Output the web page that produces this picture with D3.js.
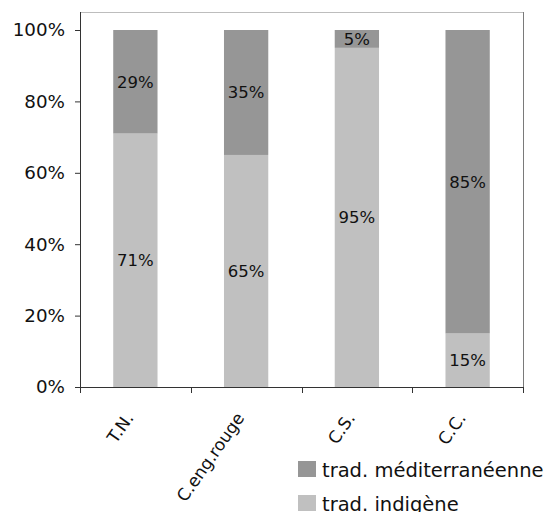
<!DOCTYPE html>
<html>
<head>
<meta charset="utf-8">
<script src="https://cdn.jsdelivr.net/npm/d3@7"></script>
<style>
  html, body { margin: 0; padding: 0; background: #fff; }
  svg text { font-family: "DejaVu Sans", Verdana, sans-serif; fill: #111; }
</style>
</head>
<body>
<svg id="chart" width="550" height="512"></svg>
<script>
// Share of each tradition per site (percent)
const categories = ["T.N.", "C.eng.rouge", "C.S.", "C.C."];
const indigene = [71, 65, 95, 15];
const mediterraneenne = [29, 35, 5, 85];
const seriesNames = ["trad. indigène", "trad. méditerranéenne"];
const yTicks = [0, 20, 40, 60, 80, 100];

const colors = { "trad. indigène": "#c0c0c0", "trad. méditerranéenne": "#969696" };

const svg = d3.select("#chart");
const plot = { left: 80, right: 523, top: 12, bottom: 387 };

const x = d3.scaleBand().domain(categories).range([plot.left, plot.right]).paddingInner(0.6).paddingOuter(0.3);
const xTick = d3.scaleBand().domain(categories).range([plot.left, plot.right]);
const y = d3.scaleLinear().domain([0, 100]).range([plot.bottom, 30]);

const rows = categories.map((c, i) => ({
  cat: c,
  "trad. indigène": indigene[i],
  "trad. méditerranéenne": mediterraneenne[i]
}));
const stacked = d3.stack().keys(seriesNames)(rows);

// plot frame (top and right edges)
svg.append("line").attr("x1", plot.left).attr("x2", plot.right)
  .attr("y1", plot.top + 0.5).attr("y2", plot.top + 0.5)
  .attr("stroke", "#bdbdbd").attr("stroke-width", 1);
svg.append("line").attr("x1", plot.right + 0.5).attr("x2", plot.right + 0.5)
  .attr("y1", plot.top).attr("y2", plot.bottom)
  .attr("stroke", "#7a7a7a").attr("stroke-width", 1);

// stacked bars
const layer = svg.append("g").selectAll("g").data(stacked).join("g")
  .attr("fill", d => colors[d.key]);
layer.selectAll("rect").data(d => d).join("rect")
  .attr("x", d => x(d.data.cat))
  .attr("width", x.bandwidth())
  .attr("y", d => y(d[1]))
  .attr("height", d => y(d[0]) - y(d[1]));

// value labels centered in each segment
layer.selectAll("text").data(d => d.map(v => ({ v, key: d.key }))).join("text")
  .attr("x", d => x(d.v.data.cat) + x.bandwidth() / 2)
  .attr("y", d => (y(d.v[0]) + y(d.v[1])) / 2)
  .attr("dy", "0.36em")
  .attr("text-anchor", "middle")
  .attr("font-size", 16.5)
  .text(d => d.v.data[d.key] + "%");

// y axis
const yAxis = svg.append("g").attr("transform", `translate(${plot.left},0)`)
  .call(d3.axisLeft(y).tickValues(yTicks).tickFormat(d => d + "%").tickSize(5).tickPadding(10));
yAxis.select(".domain").attr("stroke", "#333").attr("d", `M0.5,${plot.top}V${plot.bottom}`);
yAxis.selectAll(".tick line").attr("stroke", "#333");
yAxis.selectAll(".tick text").attr("font-size", 18.3).attr("fill", "#111");

// x axis with ticks between categories
const xAxisG = svg.append("g").attr("transform", `translate(0,${plot.bottom})`);
xAxisG.append("line").attr("x1", plot.left).attr("x2", plot.right + 1)
  .attr("y1", 0.5).attr("y2", 0.5).attr("stroke", "#333");
const boundaries = categories.map(c => xTick(c)).concat([plot.right]);
xAxisG.selectAll(".sep").data(boundaries).join("line").attr("class", "sep")
  .attr("x1", d => Math.round(d) + 0.5).attr("x2", d => Math.round(d) + 0.5)
  .attr("y1", 0).attr("y2", 6).attr("stroke", "#333");

// rotated category labels
xAxisG.selectAll(".lab").data(categories).join("text").attr("class", "lab")
  .attr("transform", c => `translate(${x(c) + x.bandwidth() / 2 - 1},${31}) rotate(-55)`)
  .attr("text-anchor", "end")
  .attr("font-size", 17)
  .text(c => c);

// legend
const legendItems = ["trad. méditerranéenne", "trad. indigène"];
const legend = svg.append("g").attr("transform", "translate(298,461)");
const li = legend.selectAll("g").data(legendItems).join("g")
  .attr("transform", (d, i) => `translate(0,${i * 34})`);
li.append("rect").attr("width", 18).attr("height", 16).attr("fill", d => colors[d]);
li.append("text").attr("x", 24).attr("y", 15.5).attr("font-size", 19.5).text(d => d);
</script>
</body>
</html>
